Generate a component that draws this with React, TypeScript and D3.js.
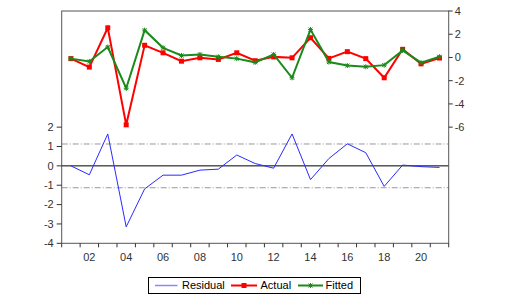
import React from "react";
import * as d3 from "d3";

const periods = ["01","02","03","04","05","06","07","08","09","10","11","12","13","14","15","16","17","18","19","20","21"];
const xLabels = ["02","04","06","08","10","12","14","16","18","20"];
const actual = [-0.1,-0.83,2.55,-5.8,1.05,0.4,-0.32,-0.03,-0.17,0.4,-0.28,0.05,-0.03,1.7,-0.08,0.5,-0.1,-1.75,0.7,-0.55,-0.05];
const fitted = [-0.1,-0.35,0.9,-2.65,2.35,0.83,0.17,0.26,0.06,-0.1,-0.42,0.26,-1.75,2.4,-0.4,-0.7,-0.8,-0.66,0.6,-0.45,0.06];
const residual = [0,-0.46,1.65,-3.15,-1.19,-0.48,-0.48,-0.22,-0.17,0.56,0.12,-0.12,1.65,-0.71,0.38,1.14,0.68,-1.06,0.04,-0.04,-0.08];
const leftTicks = [-4,-3,-2,-1,0,1,2];
const rightTicks = [-6,-4,-2,0,2,4];
const residSD = 1.13;

const W = 517, H = 303;
const L = 61.7, R = 448.7, T = 11, B = 243.3;
const FONT = "Liberation Sans, Arial, sans-serif";
const TXT = "#333";

export default function App() {
  const x = d3.scaleBand<string>().domain(periods).range([L, R]).padding(0);
  const cx = (p: string) => (x(p) as number) + x.bandwidth() / 2;
  const yL = d3.scaleLinear().domain([-4, 8]).range([B, T]);
  const yR = d3.scaleLinear().domain([-16, 4]).range([B, T]);

  const lineL = d3.line<number>().x((_, i) => cx(periods[i])).y((d) => yL(d));
  const lineR = d3.line<number>().x((_, i) => cx(periods[i])).y((d) => yR(d));

  const boundaries = periods.map((p) => x(p) as number).concat([R]);

  const star = (px: number, py: number, k: string) => (
    <g key={k} stroke="#1a8a1a" strokeWidth={1}>
      <line x1={px - 2.5} y1={py} x2={px + 2.5} y2={py} />
      <line x1={px} y1={py - 2.5} x2={px} y2={py + 2.5} />
      <line x1={px - 2} y1={py - 2} x2={px + 2} y2={py + 2} />
      <line x1={px - 2} y1={py + 2} x2={px + 2} y2={py - 2} />
    </g>
  );

  return (
    <svg width={W} height={H} style={{ position: "absolute", left: 0, top: 0, background: "#fff" }} fontFamily={FONT}>
      {/* reference lines lower panel */}
      <line x1={L} x2={R} y1={yL(residSD)} y2={yL(residSD)} stroke="#999" strokeWidth={1} strokeDasharray="6,2,1,2" />
      <line x1={L} x2={R} y1={yL(-residSD)} y2={yL(-residSD)} stroke="#999" strokeWidth={1} strokeDasharray="6,2,1,2" />
      <line x1={L} x2={R} y1={yL(0)} y2={yL(0)} stroke="#000" strokeWidth={1} />

      {/* residual */}
      <path d={lineL(residual) || ""} fill="none" stroke="#2a2aff" strokeWidth={1} />

      {/* actual */}
      <path d={lineR(actual) || ""} fill="none" stroke="#ff0000" strokeWidth={2} />
      {actual.map((v, i) => (
        <rect key={"a" + i} x={cx(periods[i]) - 2.5} y={yR(v) - 2.5} width={5} height={5} fill="#ff0000" />
      ))}

      {/* fitted */}
      <path d={lineR(fitted) || ""} fill="none" stroke="#1a8a1a" strokeWidth={2} />
      {fitted.map((v, i) => star(cx(periods[i]), yR(v), "f" + i))}

      {/* frame */}
      <rect x={L} y={T} width={R - L} height={B - T} fill="none" stroke="#555" strokeWidth={1} />

      {/* left axis */}
      {leftTicks.map((t) => (
        <g key={"l" + t}>
          <line x1={L - 5} x2={L} y1={yL(t)} y2={yL(t)} stroke="#333" />
          <text x={L - 8} y={yL(t)} dy="0.35em" textAnchor="end" fontSize={11} fill={TXT}>{t}</text>
        </g>
      ))}
      {/* right axis */}
      {rightTicks.map((t) => (
        <g key={"r" + t}>
          <line x1={R} x2={R + 4} y1={yR(t)} y2={yR(t)} stroke="#333" />
          <text x={R + 6} y={yR(t)} dy="0.35em" textAnchor="start" fontSize={11} fill={TXT}>{t}</text>
        </g>
      ))}
      {/* x axis */}
      {boundaries.map((b, i) => (
        <line key={"xt" + i} x1={b} x2={b} y1={B} y2={B + 4} stroke="#333" />
      ))}
      {xLabels.map((lb) => (
        <text key={"xl" + lb} x={cx(lb)} y={257} dy="0.35em" textAnchor="middle" fontSize={11} fill={TXT}>{lb}</text>
      ))}

      {/* legend */}
      <rect x={148.5} y={277.5} width={212} height={16} fill="#fff" stroke="#000" strokeWidth={1} />
      <line x1={155} x2={177.5} y1={285.5} y2={285.5} stroke="#8888ff" strokeWidth={1.5} />
      <text x={182} y={285.5} dy="0.35em" fontSize={11} fill="#000">Residual</text>
      <line x1={231} x2={257} y1={285.5} y2={285.5} stroke="#ff0000" strokeWidth={2} />
      <rect x={241.5} y={283} width={5} height={5} fill="#ff0000" />
      <text x={260.5} y={285.5} dy="0.35em" fontSize={11} fill="#000">Actual</text>
      <line x1={298} x2={323} y1={285.5} y2={285.5} stroke="#1a8a1a" strokeWidth={2} />
      {star(310.5, 285.5, "legstar")}
      <text x={325.5} y={285.5} dy="0.35em" fontSize={11} fill="#000">Fitted</text>
    </svg>
  );
}
